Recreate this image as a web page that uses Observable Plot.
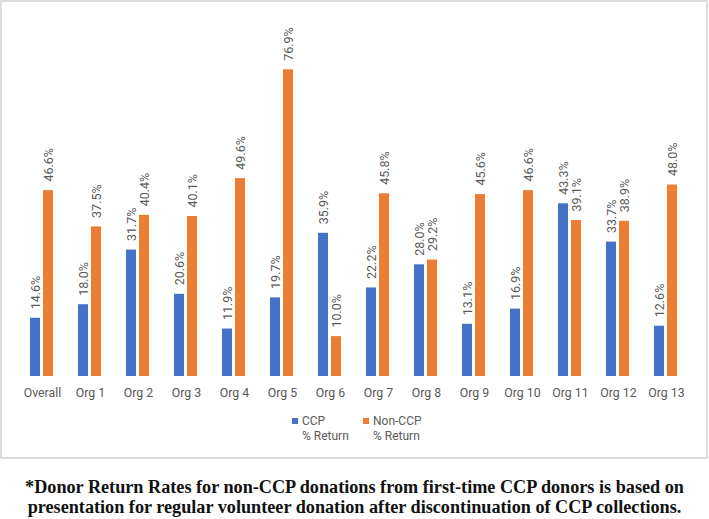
<!DOCTYPE html>
<html>
<head>
<meta charset="utf-8">
<script src="https://cdn.jsdelivr.net/npm/d3@7"></script>
<script src="https://cdn.jsdelivr.net/npm/@observablehq/plot@0.6"></script>
<style>
  body { margin: 0; background: #fff; }
  #frame { position: relative; width: 704px; height: 455px; border: 2px solid #dcdcdc; background: #fff; }
  #legend { position: absolute; left: 0; top: 412px; width: 704px; font-family: Roboto, sans-serif; font-size: 12px; color: #595959; line-height: 15px; }
  .item { position: absolute; top: 0; }
  .sw { position: absolute; left: 0; top: 4px; width: 6px; height: 6px; }
  .lab { position: absolute; left: 10px; top: 0; white-space: nowrap; }
  #caption { width: 709px; text-align: center; font-family: "Liberation Serif", "Times New Roman", serif; font-weight: bold; font-size: 18.2px; line-height: 20px; color: #111; margin-top: 18px; }
</style>
</head>
<body>
<div id="frame">
  <div id="chart"></div>
  <div id="legend"></div>
</div>
<div id="caption">*Donor Return Rates for non-CCP donations from first-time CCP donors is based on<br>presentation for regular volunteer donation after discontinuation of CCP collections.</div>
<script>
const categories = ["Overall","Org 1","Org 2","Org 3","Org 4","Org 5","Org 6","Org 7","Org 8","Org 9","Org 10","Org 11","Org 12","Org 13"];
const series = ["CCP", "Non-CCP"];
const seriesLegend = ["CCP\n% Return", "Non-CCP\n% Return"];
const ccpValues = [14.6,18.0,31.7,20.6,11.9,19.7,35.9,22.2,28.0,13.1,16.9,43.3,33.7,12.6];
const nonCcpValues = [46.6,37.5,40.4,40.1,49.6,76.9,10.0,45.8,29.2,45.6,46.6,39.1,38.9,48.0];
const colors = ["#4472C4", "#ED7D31"];

const data = [];
categories.forEach((c, i) => {
  data.push({category: c, series: series[0], value: ccpValues[i]});
  data.push({category: c, series: series[1], value: nonCcpValues[i]});
});

const chart = Plot.plot({
  width: 704,
  height: 400,
  marginLeft: 14,
  marginRight: 15,
  marginTop: 15,
  marginBottom: 26,
  style: {color: "#595959", background: "transparent"},
  fx: {domain: categories, padding: 0, label: null},
  x: {domain: series, paddingInner: 0.21, paddingOuter: 0.83, axis: null},
  y: {domain: [0, 90], axis: null},
  color: {domain: series, range: colors},
  marks: [
    Plot.barY(data, {fx: "category", x: "series", y: "value", fill: "series"}),
    Plot.text(data, {fx: "category", x: "series", y: "value", text: d => d.value.toFixed(1) + "%",
      rotate: -90, textAnchor: "start", dy: -9, fontSize: 12.5, fontFamily: "Roboto, sans-serif", fill: "#595959"}),
    Plot.axisFx({anchor: "bottom", tickSize: 0, tickPadding: 12, fontSize: 12.3, fontFamily: "Roboto, sans-serif", label: null})
  ]
});
document.getElementById("chart").appendChild(chart);

const legend = document.getElementById("legend");
const lefts = [290, 361];
series.forEach((s, i) => {
  const item = document.createElement("div");
  item.className = "item";
  item.style.left = lefts[i] + "px";
  const sw = document.createElement("div");
  sw.className = "sw";
  sw.style.background = colors[i];
  const lab = document.createElement("div");
  lab.className = "lab";
  lab.innerHTML = seriesLegend[i].split("\n").join("<br>");
  item.appendChild(sw);
  item.appendChild(lab);
  legend.appendChild(item);
});
</script>
</body>
</html>
